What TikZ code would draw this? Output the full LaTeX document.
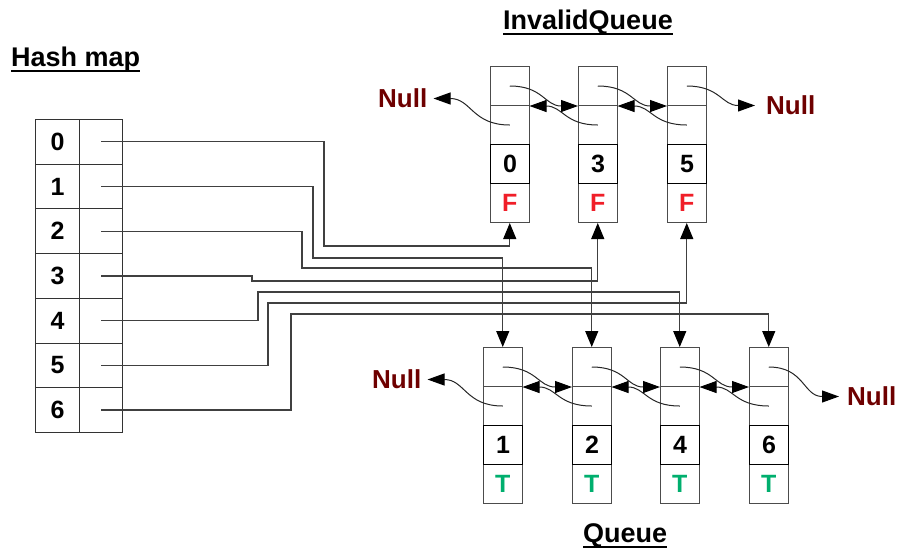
\documentclass[tikz,border=0pt]{standalone}
\usepackage{fontspec}
\setmainfont{Liberation Sans}
\usetikzlibrary{arrows.meta}
\definecolor{nullc}{RGB}{110,0,0}
\definecolor{fred}{RGB}{240,30,40}
\definecolor{tgreen}{RGB}{0,175,110}
\begin{document}
\begin{tikzpicture}[x=1pt,y=-1pt,
  cell/.style={draw=black!70, line width=1pt, minimum width=38.5pt, minimum height=39pt, inner sep=0pt, anchor=north west, font=\fontsize{25}{30}\selectfont\bfseries},
  valcell/.style={cell, draw=black, line width=1.4pt},
  hcell/.style={draw=black!80, line width=1pt, minimum height=44.7pt, inner sep=0pt, anchor=north west, font=\fontsize{25}{30}\selectfont\bfseries},
  title/.style={font=\fontsize{27}{32}\selectfont\bfseries, inner sep=0pt, anchor=base west},
  nulltext/.style={font=\fontsize{26}{31}\selectfont\bfseries, text=nullc, inner sep=0pt, anchor=west},
  hl/.style={draw=black!75, line width=1.2pt, -{Triangle[length=16pt,width=13pt,fill=black,color=black]}},
  ptr/.style={draw=black!85, line width=1pt, looseness=1.2, -{Triangle[length=17pt,width=12pt,fill=black,color=black]}},
  uline/.style={line width=2pt}
]
\useasboundingbox (0,0) rectangle (899,550);

% titles
\node[title] (t1) at (11,66) {Hash map};
\draw[uline] ([yshift=-4.5pt]t1.base west) -- ([yshift=-4.5pt]t1.base east);
\node[title] (t2) at (503,29) {InvalidQueue};
\draw[uline] ([yshift=-5pt]t2.base west) -- ([yshift=-5pt]t2.base east);
\node[title] (t3) at (583,542) {Queue};
\draw[uline] ([yshift=-5pt]t3.base west) -- ([yshift=-5pt]t3.base east);

% hash map table
\foreach \i in {0,...,6} {
  \node[hcell, minimum width=44pt] (h\i) at (35,{119+44.7*\i}) {\i};
  \node[hcell, minimum width=43pt] (p\i) at (79,{119+44.7*\i}) {};
}

% invalid queue nodes
\foreach \n/\x in {0/490, 3/578, 5/667} {
  \node[cell] (iq\n-a) at (\x,66) {};
  \node[cell] (iq\n-b) at (\x,105) {};
  \node[cell, text=fred] (iq\n-d) at (\x,183) {F};
  \node[valcell] (iq\n-c) at (\x,144) {\n};
}

% queue nodes
\foreach \n/\x in {1/483, 2/572, 4/660, 6/749} {
  \node[cell] (q\n-a) at (\x,347) {};
  \node[cell] (q\n-b) at (\x,386) {};
  \node[cell, text=tgreen] (q\n-d) at (\x,464) {T};
  \node[valcell] (q\n-c) at (\x,425) {\n};
}

% hash connectors
\draw[hl] (p0.center) -| (324,246) -| (iq0-d.south);
\draw[hl] (p1.center) -| (313,258) -| (q1-a.north);
\draw[hl] (p2.center) -| (302,268) -| (q2-a.north);
\draw[hl] (p3.center) -| (252,281) -| (iq3-d.south);
\draw[hl] (p4.center) -| (258,292) -| (q4-a.north);
\draw[hl] (p5.center) -| (268,303) -| (iq5-d.south);
\draw[hl] (p6.center) -| (291,314) -| (q6-a.north);

% invalid queue pointers
\draw[ptr] (iq0-a.center) to[out=0,in=180] (iq3-a.south west);
\draw[ptr] (iq3-b.center) to[out=180,in=0] (iq0-a.south east);
\draw[ptr] (iq3-a.center) to[out=0,in=180] (iq5-a.south west);
\draw[ptr] (iq5-b.center) to[out=180,in=0] (iq3-a.south east);
\node[nulltext] (n1) at (378,98.5) {Null};
\draw[ptr] (iq0-b.center) to[out=180,in=0] ([xshift=6pt]n1.east);
\node[nulltext] (n2) at (766,105.5) {Null};
\draw[ptr] (iq5-a.center) to[out=0,in=180] ([xshift=-11pt]n2.west);

% queue pointers
\draw[ptr] (q1-a.center) to[out=0,in=180] (q2-a.south west);
\draw[ptr] (q2-b.center) to[out=180,in=0] (q1-a.south east);
\draw[ptr] (q2-a.center) to[out=0,in=180] (q4-a.south west);
\draw[ptr] (q4-b.center) to[out=180,in=0] (q2-a.south east);
\draw[ptr] (q4-a.center) to[out=0,in=180] (q6-a.south west);
\draw[ptr] (q6-b.center) to[out=180,in=0] (q4-a.south east);
\node[nulltext] (n3) at (372,379.5) {Null};
\draw[ptr] (q1-b.center) to[out=180,in=0] ([xshift=6pt]n3.east);
\node[nulltext] (n4) at (847,396.5) {Null};
\draw[ptr] (q6-a.center) to[out=0,in=180] ([xshift=-8pt]n4.west);
\end{tikzpicture}
\end{document}
